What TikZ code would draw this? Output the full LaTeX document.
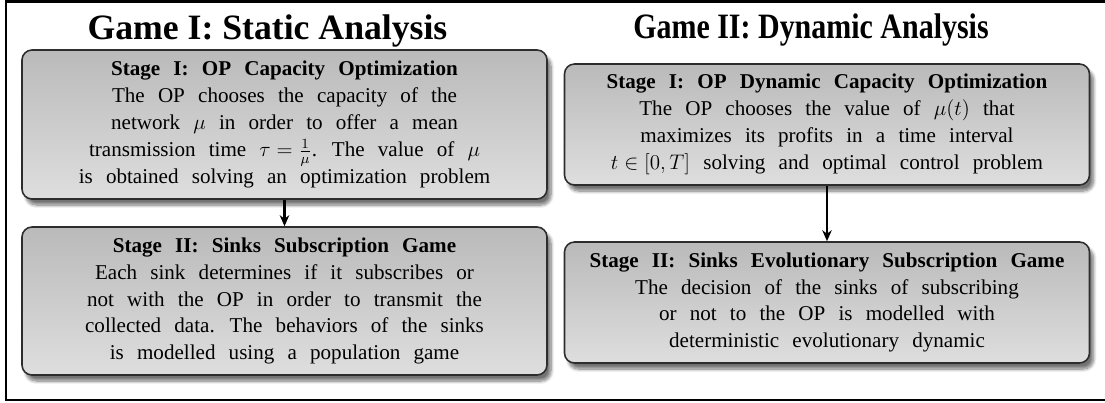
\documentclass[tikz,border=0pt]{standalone}
\usepackage{amsmath}
\usepackage{fontspec}
\setmainfont{Liberation Serif}[WordSpace=2.5]
\newfontfamily\gamefont{Liberation Serif}
\newfontfamily\gamefontnarrow{Liberation Serif}[FakeStretch=0.84]
\usetikzlibrary{arrows.meta,positioning,shadows.blur}
\definecolor{boxtop}{RGB}{186,186,186}
\definecolor{boxbottom}{RGB}{222,222,222}
\definecolor{boxline}{RGB}{45,45,45}

\tikzset{
  stagebox/.style={draw=boxline, line width=0.9pt, rounded corners=0.2cm,
    top color=boxtop, bottom color=boxbottom,
    minimum width=10.5cm, text width=10.3cm, align=flush center, inner sep=0pt,
    font=\fontsize{12}{15.25}\selectfont,
    blur shadow={shadow xshift=0.08cm, shadow yshift=-0.12cm, shadow blur steps=8, shadow opacity=55}},
  gametitle/.style={anchor=base, font=\gamefont\bfseries\fontsize{20.3}{24}\selectfont},
  stagearrow/.style={-{Stealth[length=2.2mm,width=1.9mm]}, line width=1.2pt}
}

\begin{document}
\begin{tikzpicture}
\useasboundingbox (0,0) rectangle (22.1,8.04);
% outer frame, open on the right
\draw[line width=1.15pt] (22.1,8.01) -- (0.12,8.01) -- (0.12,0.04) -- (22.1,0.04);
% Game I: static
\node[gametitle] (gameone) at (5.35,7.26) {Game I: Static Analysis};
\node[stagebox, minimum height=2.98cm] (staticop) at (5.69,5.55)
  {\textbf{Stage I: OP Capacity Optimization}\\
   The OP chooses the capacity of the\\
   network $\mu$ in order to offer a mean\\
   transmission time $\tau=\frac{1}{\mu}$. The value of $\mu$\\
   is obtained solving an optimization problem};
\node[stagebox, minimum height=2.96cm] (staticsink) at (5.69,2.02)
  {\textbf{Stage II: Sinks Subscription Game}\\
   Each sink determines if it subscribes or\\
   not with the OP in order to transmit the\\
   collected data. The behaviors of the sinks\\
   is modelled using a population game};
\draw[stagearrow] (staticop.south) -- (staticsink.north);
% Game II: dynamic
\node[gametitle, font=\gamefontnarrow\bfseries\fontsize{20.3}{24}\selectfont] (gametwo) at (16.22,7.28) {Game II: Dynamic Analysis};
\node[stagebox, minimum height=2.42cm] (dynamicop) at (16.54,5.55)
  {\textbf{Stage I: OP Dynamic Capacity Optimization}\\
   The OP chooses the value of $\mu(t)$ that\\
   maximizes its profits in a time interval\\
   $t\in[0,T]$ solving and optimal control problem};
\node[stagebox, minimum height=2.42cm] (dynamicsink) at (16.54,1.99)
  {\textbf{Stage II: Sinks Evolutionary Subscription Game}\\
   The decision of the sinks of subscribing\\
   or not to the OP is modelled with\\
   deterministic evolutionary dynamic};
\draw[stagearrow] (dynamicop.south) -- (dynamicsink.north);
\end{tikzpicture}
\end{document}
